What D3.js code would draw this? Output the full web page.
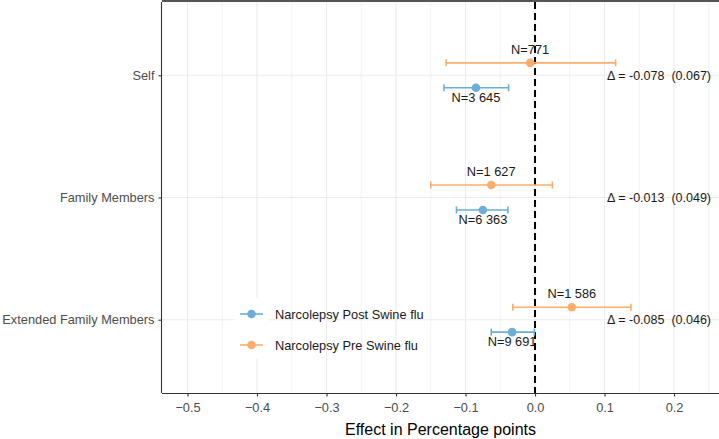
<!DOCTYPE html>
<html><head><meta charset="utf-8">
<script src="https://cdn.jsdelivr.net/npm/d3@7/dist/d3.min.js"></script>
<style>body{margin:0;background:#fff}svg{display:block;font-family:"Liberation Sans",Arial,sans-serif}</style>
</head><body>
<script>
const categories = ["Self", "Family Members", "Extended Family Members"];
const seriesNames = ["Narcolepsy Post Swine flu", "Narcolepsy Pre Swine flu"];
const postEst = [-0.085, -0.075, -0.033];
const postLo  = [-0.131, -0.113, -0.063];
const postHi  = [-0.038, -0.039, -0.001];
const postN   = ["N=3 645", "N=6 363", "N=9 691"];
const preEst  = [-0.007, -0.063, 0.053];
const preLo   = [-0.128, -0.150, -0.032];
const preHi   = [0.116, 0.025, 0.138];
const preN    = ["N=771", "N=1 627", "N=1 586"];
const deltaLabels = ["\u0394 = -0.078  (0.067)", "\u0394 = -0.013  (0.049)", "\u0394 = -0.085  (0.046)"];
const xTicks = [-0.5, -0.4, -0.3, -0.2, -0.1, 0.0, 0.1, 0.2];
const xMinor = [-0.45, -0.35, -0.25, -0.15, -0.05, 0.05, 0.15, 0.25];
const colors = ["#6baed6", "#fdae6b"];

const W = 719, H = 439;
const L = 162, R = 719, T = 2, B = 393;
const FS = 12.8;
const svg = d3.select("body").append("svg").attr("width", W).attr("height", H);

const x = d3.scaleLinear().domain([-0.5367, 0.2647]).range([L, R]);
const y = d3.scaleLinear().domain([0.4, 3.6]).range([T, B]);
const yCat = i => y(i + 1);
const dodge = 0.102;

// grid
const g = svg.append("g");
g.selectAll(".mn").data(xMinor).join("line")
  .attr("x1", d => x(d)).attr("x2", d => x(d)).attr("y1", T).attr("y2", B)
  .attr("stroke", "#ebebeb").attr("stroke-width", 0.6);
g.selectAll(".mj").data(xTicks).join("line")
  .attr("x1", d => x(d)).attr("x2", d => x(d)).attr("y1", T).attr("y2", B)
  .attr("stroke", "#ebebeb").attr("stroke-width", 1.1);
g.selectAll(".hy").data(categories).join("line")
  .attr("x1", L).attr("x2", R).attr("y1", (d, i) => yCat(i)).attr("y2", (d, i) => yCat(i))
  .attr("stroke", "#ebebeb").attr("stroke-width", 1.1);

// top border band
svg.append("rect").attr("x", L).attr("y", 0).attr("width", R - L).attr("height", 2).attr("fill", "#555");

// zero line
svg.append("line").attr("x1", x(0)).attr("x2", x(0)).attr("y1", T).attr("y2", B)
  .attr("stroke", "#000").attr("stroke-width", 2).attr("stroke-dasharray", "7,4");

// series
const series = [
  {est: postEst, lo: postLo, hi: postHi, n: postN, off: dodge, col: colors[0], ldy: 14},
  {est: preEst, lo: preLo, hi: preHi, n: preN, off: -dodge, col: colors[1], ldy: -9}
];
series.forEach(s => {
  const gg = svg.append("g");
  categories.forEach((c, i) => {
    const yy = y(i + 1 + s.off);
    gg.append("line").attr("x1", x(s.lo[i])).attr("x2", x(s.hi[i])).attr("y1", yy).attr("y2", yy)
      .attr("stroke", s.col).attr("stroke-width", 1.6);
    [s.lo[i], s.hi[i]].forEach(v => gg.append("line").attr("x1", x(v)).attr("x2", x(v))
      .attr("y1", yy - 3.5).attr("y2", yy + 3.5).attr("stroke", s.col).attr("stroke-width", 1.6));
    gg.append("circle").attr("cx", x(s.est[i])).attr("cy", yy).attr("r", 4.3).attr("fill", s.col);
    gg.append("text").attr("x", x(s.est[i])).attr("y", yy + s.ldy).attr("text-anchor", "middle")
      .attr("font-size", FS).attr("fill", "#1a1a1a").text(s.n[i]);
  });
});

// delta labels
svg.selectAll(".dl").data(deltaLabels).join("text")
  .attr("x", 711).attr("y", (d, i) => yCat(i) + 4.5).attr("text-anchor", "end")
  .attr("font-size", 12.5).attr("fill", "#1a1a1a").attr("xml:space", "preserve")
  .style("white-space", "pre").text(d => d);

// axes
const xa = svg.append("g").attr("transform", `translate(0,${B})`)
  .call(d3.axisBottom(x).tickValues(xTicks).tickFormat(d3.format(".1f")).tickSize(3.5).tickPadding(4));
xa.select(".domain").attr("stroke", "#333").attr("stroke-width", 1.1).attr("d", `M${L},0.5H${R}`);
xa.selectAll(".tick line").attr("stroke", "#333").attr("stroke-width", 1.1);
xa.selectAll(".tick text").attr("font-size", FS).attr("fill", "#4d4d4d")
  .attr("font-family", '"Liberation Sans",Arial,sans-serif').attr("dy", "0.88em");

const yScaleBand = d3.scalePoint().domain(categories).range([yCat(0), yCat(2)]);
const ya = svg.append("g").attr("transform", `translate(${L},0)`)
  .call(d3.axisLeft(yScaleBand).tickSize(3.5).tickPadding(4));
ya.select(".domain").attr("stroke", "#333").attr("stroke-width", 1.1).attr("d", `M-0.5,${T}V${B}`);
ya.selectAll(".tick line").attr("stroke", "#333").attr("stroke-width", 1.1);
ya.selectAll(".tick text").attr("font-size", FS).attr("fill", "#4d4d4d")
  .attr("font-family", '"Liberation Sans",Arial,sans-serif');

svg.append("text").attr("x", (L + R) / 2).attr("y", 435).attr("text-anchor", "middle")
  .attr("font-size", 16).attr("fill", "#000").text("Effect in Percentage points");

// legend
const lg = svg.append("g");
lg.append("rect").attr("x", 235).attr("y", 298).attr("width", 33).attr("height", 61).attr("fill", "#fff");
seriesNames.forEach((nm, i) => {
  const yy = 314 + i * 31;
  lg.append("line").attr("x1", 240).attr("x2", 263).attr("y1", yy).attr("y2", yy)
    .attr("stroke", colors[i]).attr("stroke-width", 1.6);
  lg.append("circle").attr("cx", 251.5).attr("cy", yy).attr("r", 4.3).attr("fill", colors[i]);
  lg.append("text").attr("x", 275).attr("y", yy + 4.5).attr("font-size", FS).attr("fill", "#1a1a1a").text(nm);
});
</script>
</body></html>
